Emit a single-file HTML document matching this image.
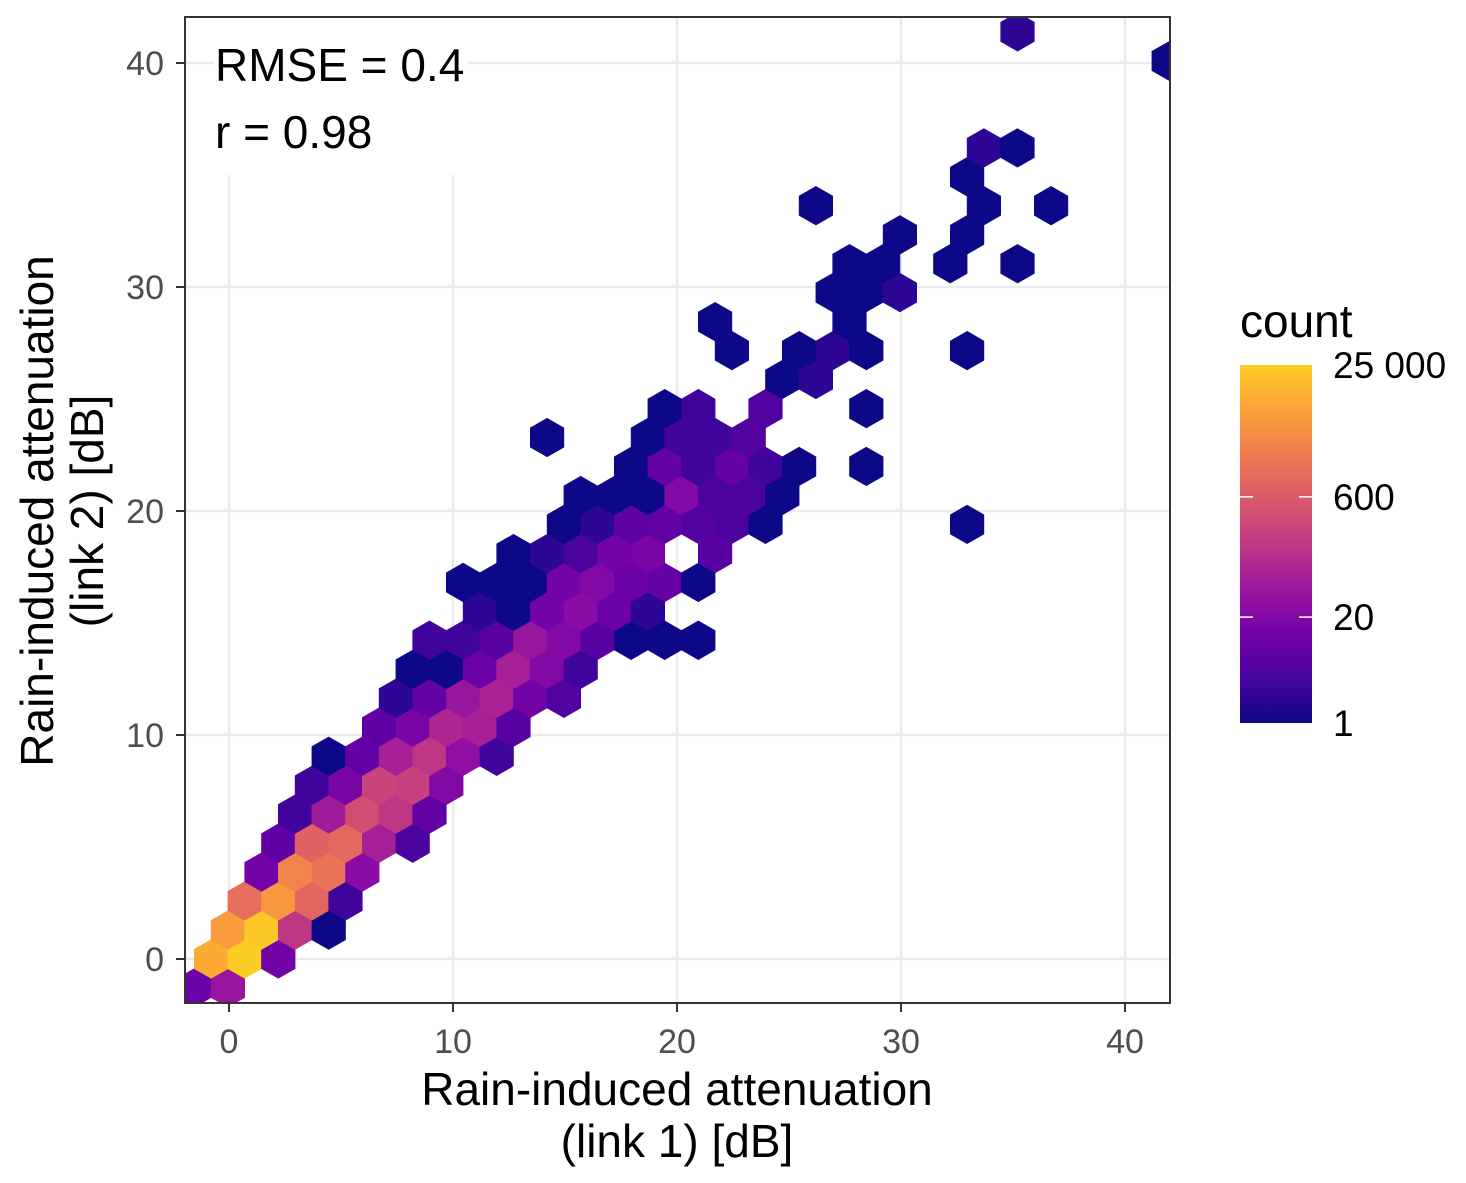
<!DOCTYPE html>
<html><head><meta charset="utf-8">
<style>
html,body{margin:0;padding:0;background:#fff;}
svg{display:block;font-family:"Liberation Sans",Arial,sans-serif;}
</style></head>
<body>
<svg id="chart" width="1466" height="1183" viewBox="0 0 1466 1183">
<defs>
<clipPath id="panelClip"><rect x="185" y="17" width="985" height="986"/></clipPath>
<linearGradient id="legendGrad" x1="0" y1="1" x2="0" y2="0"></linearGradient>
</defs>
<rect x="185" y="17" width="985" height="986" fill="#fff"/>
<g id="grid"></g>
<g id="hexes" clip-path="url(#panelClip)"></g>
<rect x="214" y="17" width="254" height="158" fill="#fff"/>
<text x="215" y="81" font-size="46" fill="#000">RMSE = 0.4</text>
<text x="215" y="148" font-size="46" fill="#000">r = 0.98</text>
<rect x="185" y="17" width="985" height="986" fill="none" stroke="#333" stroke-width="2"/>
<g id="axes"></g>
<text x="677" y="1105" font-size="46" text-anchor="middle" fill="#000"><tspan x="677">Rain-induced attenuation</tspan><tspan x="677" dy="52">(link 1) [dB]</tspan></text>
<text transform="translate(53,511) rotate(-90)" font-size="46" text-anchor="middle" fill="#000"><tspan x="0" y="0">Rain-induced attenuation</tspan><tspan x="0" dy="50">(link 2) [dB]</tspan></text>
<g id="legend">
<text x="1240" y="337" font-size="46" fill="#000">count</text>
<rect x="1240" y="365" width="72" height="358" fill="url(#legendGrad)"/>
</g>
</svg>
<script>
// ---- data ----
var xTicks = [0, 10, 20, 30, 40];
var yTicks = [0, 10, 20, 30, 40];
var legendBreaks = [1, 20, 600, 25000];
var legendLabels = ["1", "20", "600", "25 000"];
var countMax = 25000;
var hexX = [
 -1.55,-0.05,
 -0.80,0.70,2.20,
 -0.05,1.45,2.95,4.45,
 0.70,2.20,3.70,5.20,
 1.45,2.95,4.45,5.95,
 2.20,3.70,5.20,6.70,8.20,
 2.95,4.45,5.95,7.45,8.95,
 3.70,5.20,6.70,8.20,9.70,
 4.45,5.95,7.45,8.95,10.45,11.95,
 6.70,8.20,9.70,11.20,12.70,
 7.45,8.95,10.45,11.95,13.45,14.95,
 8.20,9.70,11.20,12.70,14.20,15.70,
 8.95,10.45,11.95,13.45,14.95,16.45,17.95,19.45,20.95,
 11.20,12.70,14.20,15.70,17.20,18.70,
 10.45,11.95,13.45,14.95,16.45,17.95,19.45,20.95,
 12.70,14.20,15.70,17.20,18.70,21.70,
 14.95,16.45,17.95,19.45,20.95,22.45,23.95,32.95,
 15.70,17.20,18.70,20.20,21.70,23.20,24.70,
 17.95,19.45,20.95,22.45,23.95,25.45,28.45,
 14.20,18.70,20.20,21.70,23.20,
 19.45,20.95,23.95,28.45,
 24.70,26.20,
 22.45,25.45,26.95,28.45,32.95,
 21.70,27.70,
 26.95,28.45,29.95,
 27.70,29.20,32.20,35.20,
 29.95,32.95,
 26.20,33.70,36.70,
 32.95,
 33.70,35.20,
 41.95,
 35.20
];
var hexY = [
 -1.29,-1.29,
 0,0,0,
 1.29,1.29,1.29,1.29,
 2.59,2.59,2.59,2.59,
 3.88,3.88,3.88,3.88,
 5.17,5.17,5.17,5.17,5.17,
 6.47,6.47,6.47,6.47,6.47,
 7.75,7.75,7.75,7.75,7.75,
 9.05,9.05,9.05,9.05,9.05,9.05,
 10.35,10.35,10.35,10.35,10.35,
 11.64,11.64,11.64,11.64,11.64,11.64,
 12.93,12.93,12.93,12.93,12.93,12.93,
 14.23,14.23,14.23,14.23,14.23,14.23,14.23,14.23,14.23,
 15.52,15.52,15.52,15.52,15.52,15.52,
 16.81,16.81,16.81,16.81,16.81,16.81,16.81,16.81,
 18.10,18.10,18.10,18.10,18.10,18.10,
 19.40,19.40,19.40,19.40,19.40,19.40,19.40,19.40,
 20.69,20.69,20.69,20.69,20.69,20.69,20.69,
 21.99,21.99,21.99,21.99,21.99,21.99,21.99,
 23.28,23.28,23.28,23.28,23.28,
 24.57,24.57,24.57,24.57,
 25.87,25.87,
 27.16,27.16,27.16,27.16,27.16,
 28.45,28.45,
 29.75,29.75,29.75,
 31.04,31.04,31.04,31.04,
 32.33,32.33,
 33.63,33.63,33.63,
 34.92,
 36.21,36.21,
 40.09,
 41.39
];
var hexCount = [
 10,40,
 9000,25000,12,
 6000,20000,150,1,
 1200,5000,900,3,
 12,2500,1500,25,
 7,800,1000,60,4,
 3,50,350,150,8,
 3,15,250,220,20,
 1,8,60,150,30,3,
 7,15,80,60,6,
 2,8,40,70,12,5,
 1,1,10,60,20,3,
 3,3,6,40,20,6,1,1,1,
 2,1,12,25,10,2,
 1,1,1,12,20,10,8,1,
 1,2,4,12,15,6,
 1,2,7,8,5,4,1,1,
 1,1,1,20,4,4,1,
 1,8,3,8,3,1,1,
 1,1,3,3,5,
 1,3,5,1,
 1,2,
 1,1,2,1,1,
 1,1,
 1,1,2,
 1,1,1,1,
 1,1,
 1,1,1,
 1,
 2,1,
 1,
 2
];
// ---- scales ----
var NS = "http://www.w3.org/2000/svg";
function xs(v){ return 229 + 22.4 * v; }
function ys(v){ return 959 - 22.4 * v; }
var plasma = [[13,8,135],[65,4,157],[106,0,168],[143,13,164],[177,42,144],[204,71,120],[225,100,98],[242,132,75],[252,166,54],[252,206,37],[240,249,33]];
function plasmaAt(t){
  t = Math.max(0, Math.min(1, t)) * 10;
  var i = Math.min(9, Math.floor(t)), f = t - i;
  var a = plasma[i], b = plasma[i+1];
  return "rgb(" + [0,1,2].map(function(k){ return Math.round(a[k] + (b[k]-a[k]) * f); }).join(",") + ")";
}
function colorFor(c){ return plasmaAt(0.9 * Math.log(c) / Math.log(countMax)); }
function mk(tag, attrs, parent){
  var e = document.createElementNS(NS, tag);
  for (var k in attrs) e.setAttribute(k, attrs[k]);
  parent.appendChild(e);
  return e;
}
// ---- grid ----
var grid = document.getElementById("grid");
xTicks.forEach(function(t){
  var l = mk("line", {x1: xs(t), x2: xs(t), y1: 17, y2: 1003, stroke: "#EBEBEB", "stroke-width": 2.5}, grid);
  
  
});
yTicks.forEach(function(t){
  var l = mk("line", {x1: 185, x2: 1170, y1: ys(t), y2: ys(t), stroke: "#EBEBEB", "stroke-width": 2.5}, grid);
  
  
});
// ---- hexes ----
var hexG = document.getElementById("hexes");
var hw = 0.75, hh = 0.862;
for (var i = 0; i < hexX.length; i++){
  var cx = hexX[i], cy = hexY[i];
  var pts = [[cx, cy+hh],[cx+hw, cy+hh/2],[cx+hw, cy-hh/2],[cx, cy-hh],[cx-hw, cy-hh/2],[cx-hw, cy+hh/2]]
    .map(function(p){ return xs(p[0]).toFixed(1) + "," + ys(p[1]).toFixed(1); }).join(" ");
  var c = colorFor(hexCount[i]);
  var h = mk("polygon", {points: pts, fill: c, stroke: c, "stroke-width": 0.6}, hexG);
  
  
}
// ---- axes ----
var axes = document.getElementById("axes");
xTicks.forEach(function(t){
  var tk = mk("line", {x1: xs(t), x2: xs(t), y1: 1003, y2: 1012, stroke: "#333", "stroke-width": 2}, axes);
  
  
  var tx = mk("text", {x: xs(t), y: 1053, "font-size": 34, "text-anchor": "middle", fill: "#4D4D4D"}, axes);
  
  
  tx.textContent = t;
});
yTicks.forEach(function(t){
  var tk = mk("line", {x1: 176, x2: 185, y1: ys(t), y2: ys(t), stroke: "#333", "stroke-width": 2}, axes);
  
  
  var tx = mk("text", {x: 164, y: ys(t) + 12, "font-size": 34, "text-anchor": "end", fill: "#4D4D4D"}, axes);
  
  
  tx.textContent = t;
});
// ---- legend ----
var grad = document.getElementById("legendGrad");
for (var s = 0; s <= 20; s++){
  mk("stop", {offset: (s/20), "stop-color": plasmaAt(0.9 * s / 20)}, grad);
}
var leg = document.getElementById("legend");
function ly(v){ return 723 - 358 * Math.log(v) / Math.log(countMax); }
legendBreaks.forEach(function(b, k){
  var y = ly(b);
  if (k > 0 && k < legendBreaks.length - 1){
    var a1 = mk("line", {x1: 1240, x2: 1253, y1: y, y2: y, stroke: "#fff", "stroke-width": 1.5}, leg);
    
    
    var a2 = mk("line", {x1: 1299, x2: 1312, y1: y, y2: y, stroke: "#fff", "stroke-width": 1.5}, leg);
    
    
  }
  var t = mk("text", {x: 1333, y: y + 13, "font-size": 37, fill: "#000"}, leg);
  
  
  t.textContent = legendLabels[k];
});
</script>
</body></html>
